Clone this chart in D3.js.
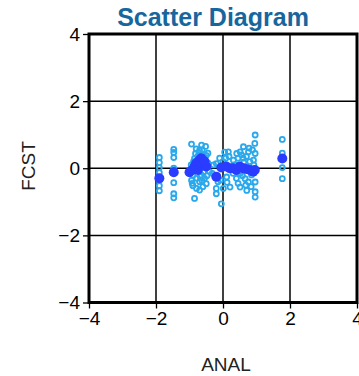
<!DOCTYPE html>
<html>
<head>
<meta charset="utf-8">
<script src="https://cdn.jsdelivr.net/npm/d3@7"></script>
<style>
  body { margin: 0; background: #fff; }
  svg { display: block; }
</style>
</head>
<body>
<div id="chart"></div>
<script>
// tick values for both axes
const tickValues = [-4, -2, 0, 2, 4];

// individual pairs (light open circles)
const analPts = [
  -1.9, -1.9, -1.9, -1.9, -1.9, -1.9, -1.9,
  -1.47, -1.47, -1.47, -1.47, -1.47, -1.47, -1.47,
  -0.94, -0.64, -0.52, -0.82, -0.70, -0.85, -0.6, -0.45, -0.55, -0.75, -0.95, -0.9,
  -0.9, -0.79, -0.85, -0.6, -0.7, -0.5, -0.55, -0.94, -0.65, -0.4, -0.45,
  -0.8, -0.72, -0.62, -0.5, -0.88, -0.68, -0.58, -0.78, -0.48, -0.92, -0.7, -0.62,
  -0.2, -0.2, -0.2, -0.05, -0.1, 0.05, 0.16, 0.01, 0.11, 0.21, -0.15, 0.0,
  -0.28, -0.32, 0.08, 0.18, -0.08, 0.12,
  0.96, 0.95, 0.61, 0.51, 0.76, 0.41, 0.31, 0.96, 0.91, 0.51, 0.66, 0.51, 0.76,
  0.96, 0.96, 0.71, 0.6, 0.8, 0.4, 0.85, 0.96, 0.3,
  0.45, 0.55, 0.7, 0.88, 0.35, 0.62, 0.78, 0.92, 0.45, 0.68, 0.84, 0.58,
  1.77, 1.77, 1.77, 1.77
];
const fcstPts = [
  0.32, 0.17, 0.02, -0.13, -0.37, -0.52, -0.67,
  0.56, 0.47, 0.32, 0.0, -0.43, -0.76, -0.88,
  0.72, 0.69, 0.65, 0.44, 0.54, 0.29, 0.4, 0.45, 0.3, 0.35, 0.1, -0.2,
  -0.52, -0.6, -0.9, -0.55, -0.4, -0.46, -0.3, -0.36, -0.2, -0.1, 0.15,
  0.58, 0.46, 0.55, 0.38, 0.2, -0.25, -0.12, -0.3, -0.22, -0.45, -0.65, -0.38,
  0.14, -0.6, -0.76, -1.06, 0.3, 0.48, 0.49, -0.6, -0.26, -0.56, -0.4, 0.2,
  0.1, -0.15, 0.3, 0.35, -0.35, -0.42,
  0.99, 0.74, 0.64, 0.49, 0.49, 0.44, 0.24, 0.44, 0.24, -0.16, -0.31, -0.56, -0.41,
  -0.41, -0.86, -0.66, 0.3, 0.2, -0.3, -0.2, -0.7, -0.15,
  0.3, 0.4, 0.35, 0.55, 0.1, 0.18, 0.6, 0.1, -0.45, -0.5, -0.55, -0.22,
  0.86, 0.02, -0.31, 0.45
];

// group means (dark filled circles)
const analMean = [-1.9, -1.47, -1.0, -0.85, -0.72, -0.6, -0.75, -0.5, -0.65, -0.8, -0.55, -0.92,
  -0.2, -0.05, 0.1, 0.2, 0.3, 0.4, 0.5, 0.6, 0.7, 0.8, 0.9, 0.95, 1.77];
const fcstMean = [-0.3, -0.12, -0.12, 0.05, 0.22, 0.12, -0.05, 0.05, 0.3, 0.15, 0.2, -0.05,
  -0.25, 0.02, 0.05, 0.0, 0.0, -0.05, 0.05, 0.0, -0.02, -0.05, -0.1, -0.05, 0.29];

const width = 359;
const height = 376;
const plotL = 89, plotR = 357, plotT = 34, plotB = 302.5;

const svg = d3.select("#chart")
  .append("svg")
  .attr("width", width)
  .attr("height", height);

const x = d3.scaleLinear().domain([-4, 4]).range([plotL, plotR]);
const y = d3.scaleLinear().domain([-4, 4]).range([plotB, plotT]);

const fmt = (d) => (d < 0 ? "\u2212" + Math.abs(d) : String(d));

// title
svg.append("text")
  .attr("x", 213)
  .attr("y", 26)
  .attr("text-anchor", "middle")
  .attr("font-family", "Liberation Sans, Arial, sans-serif")
  .attr("font-weight", "bold")
  .attr("font-size", 25)
  .attr("fill", "#17679e")
  .text("Scatter Diagram");

// inner grid lines
svg.append("g")
  .selectAll("line")
  .data(tickValues.slice(1, -1))
  .enter().append("line")
  .attr("x1", (d) => x(d)).attr("x2", (d) => x(d))
  .attr("y1", plotT).attr("y2", plotB)
  .attr("stroke", "#000").attr("stroke-width", 1.5);

svg.append("g")
  .selectAll("line")
  .data(tickValues.slice(1, -1))
  .enter().append("line")
  .attr("x1", plotL).attr("x2", plotR)
  .attr("y1", (d) => y(d)).attr("y2", (d) => y(d))
  .attr("stroke", "#000").attr("stroke-width", 1.5);

// points
svg.append("g")
  .selectAll("circle")
  .data(analPts.map((a, i) => [a, fcstPts[i]]))
  .enter().append("circle")
  .attr("cx", (d) => x(d[0]))
  .attr("cy", (d) => y(d[1]))
  .attr("r", 2.5)
  .attr("fill", "none")
  .attr("stroke", "#2aa8ec")
  .attr("stroke-width", 1.8);

svg.append("g")
  .selectAll("circle")
  .data(analMean.map((a, i) => [a, fcstMean[i]]))
  .enter().append("circle")
  .attr("cx", (d) => x(d[0]))
  .attr("cy", (d) => y(d[1]))
  .attr("r", 5)
  .attr("fill", "#2a3cff");

// frame
svg.append("rect")
  .attr("x", plotL).attr("y", plotT)
  .attr("width", plotR - plotL).attr("height", plotB - plotT)
  .attr("fill", "none")
  .attr("stroke", "#000")
  .attr("stroke-width", 3);

// axes
const xAxis = svg.append("g")
  .attr("transform", `translate(0,${plotB})`)
  .call(d3.axisBottom(x).tickValues(tickValues).tickSize(6).tickSizeOuter(0).tickFormat(fmt));
const yAxis = svg.append("g")
  .attr("transform", `translate(${plotL},0)`)
  .call(d3.axisLeft(y).tickValues(tickValues).tickSize(6).tickSizeOuter(0).tickFormat(fmt));

[xAxis, yAxis].forEach((g) => {
  g.select(".domain").remove();
  g.selectAll("line").attr("stroke", "#000").attr("stroke-width", 1.3);
  g.selectAll("text")
    .attr("font-family", "Liberation Sans, Arial, sans-serif")
    .attr("font-size", 19)
    .attr("fill", "#000");
});
xAxis.selectAll("text").attr("dy", "0.95em").attr("y", 4);
yAxis.selectAll("text").attr("x", -9);

// axis titles
svg.append("text")
  .attr("x", 226)
  .attr("y", 371)
  .attr("text-anchor", "middle")
  .attr("font-family", "Liberation Sans, Arial, sans-serif")
  .attr("font-size", 19)
  .attr("fill", "#222")
  .text("ANAL");

svg.append("text")
  .attr("transform", "translate(35,166) rotate(-90)")
  .attr("text-anchor", "middle")
  .attr("font-family", "Liberation Sans, Arial, sans-serif")
  .attr("font-size", 19)
  .attr("fill", "#222")
  .text("FCST");
</script>
</body>
</html>
